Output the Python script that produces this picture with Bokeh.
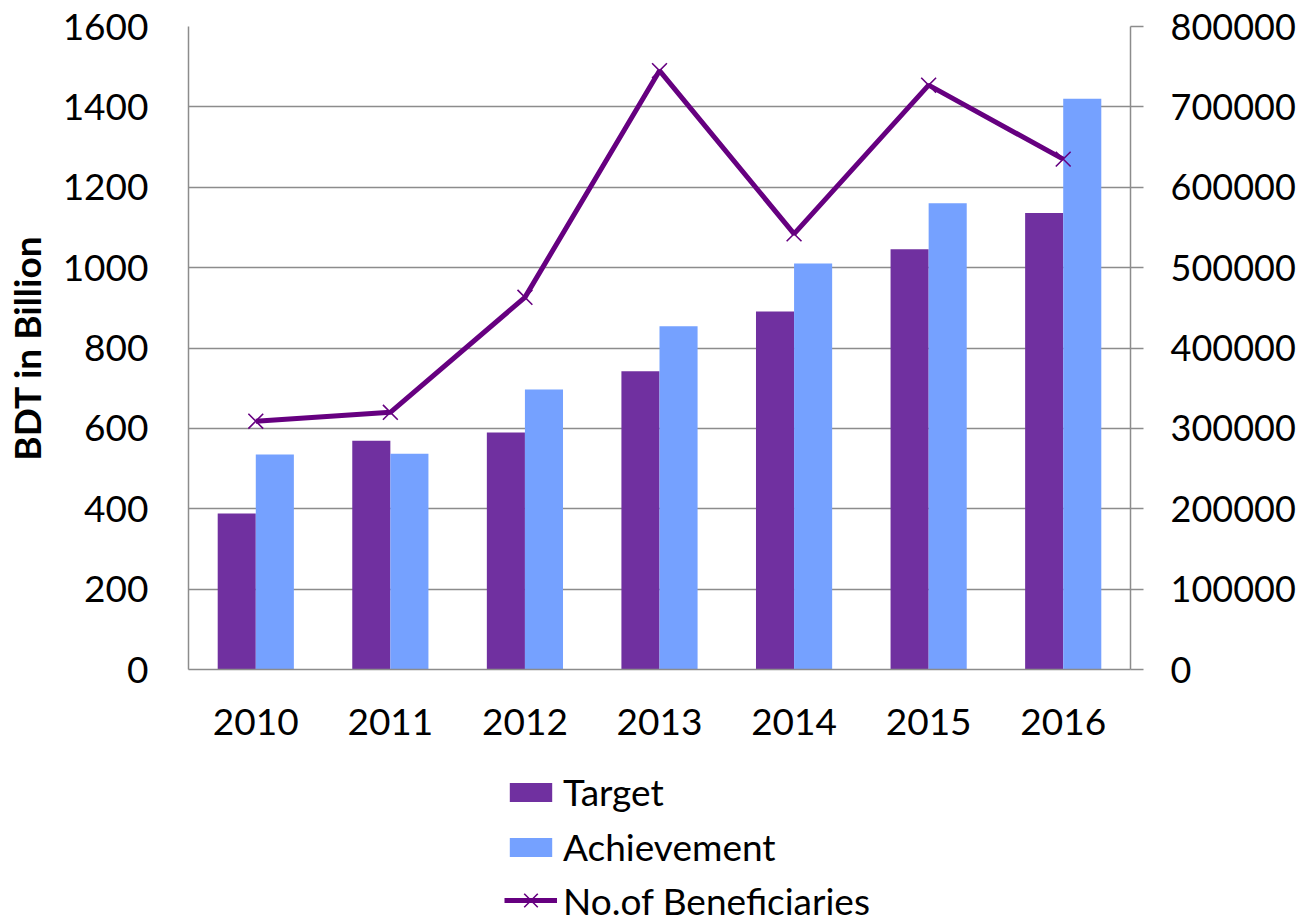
from bokeh.plotting import figure
from bokeh.layouts import column
from bokeh.models import (FactorRange, Range1d, LinearAxis, FixedTicker, BasicTickFormatter,
                          ColumnDataSource, Legend, LegendItem)
from bokeh.transform import dodge
from bokeh.embed import file_html
from bokeh.resources import INLINE

years = ["2010", "2011", "2012", "2013", "2014", "2015", "2016"]
target = [388, 569, 590, 742, 891, 1046, 1136]
achievement = [535, 537, 697, 854, 1010, 1160, 1420]
beneficiaries = [309000, 320000, 463000, 745000, 542000, 727000, 635000]
left_ticks = [0, 200, 400, 600, 800, 1000, 1200, 1400, 1600]
right_ticks = [0, 100000, 200000, 300000, 400000, 500000, 600000, 700000, 800000]
series_names = ["Target", "Achievement", "No.of Beneficiaries"]

FONT = "Lato"
GRID = "#8c8c8c"
C_T = "#7030A0"
C_A = "#75A1FF"
C_L = "#660080"

src = ColumnDataSource(dict(years=years, target=target, achievement=achievement,
                            ben=beneficiaries))

p = figure(width=1305, height=767, x_range=FactorRange(*years, range_padding=0),
           y_range=Range1d(0, 1600), output_backend="svg", toolbar_location=None,
           min_border_left=187, min_border_right=175, min_border_top=26,
           min_border_bottom=98)
p.outline_line_color = None
p.extra_y_ranges = {"ben": Range1d(0, 800000)}

bw = 0.283
p.vbar(x=dodge("years", -bw / 2, range=p.x_range), top="target", width=bw,
       source=src, fill_color=C_T, line_color=None)
p.vbar(x=dodge("years", bw / 2, range=p.x_range), top="achievement", width=bw,
       source=src, fill_color=C_A, line_color=None)
p.line(x="years", y="ben", source=src, y_range_name="ben",
       line_color=C_L, line_width=5)
p.scatter(x="years", y="ben", source=src, y_range_name="ben", marker="x",
          size=21, line_color=C_L, line_width=1.6)

# left axis
ya = p.yaxis[0]
ya.ticker = FixedTicker(ticks=left_ticks)
ya.axis_label = "BDT in Billion"
ya.axis_label_text_font = FONT
ya.axis_label_text_font_style = "bold"
ya.axis_label_text_font_size = "37px"
ya.axis_label_text_color = "black"
ya.axis_label_standoff = 11
ya.major_label_text_font = FONT
ya.major_label_text_font_size = "37px"
ya.major_label_text_color = "black"
ya.major_label_standoff = 40
ya.major_tick_out = 0
ya.major_tick_in = 0
ya.minor_tick_out = 0
ya.minor_tick_in = 0
ya.axis_line_color = GRID
ya.axis_line_width = 1.5

# right axis
ra = LinearAxis(y_range_name="ben", ticker=FixedTicker(ticks=right_ticks),
                formatter=BasicTickFormatter(use_scientific=False))
ra.major_label_text_font = FONT
ra.major_label_text_font_size = "36px"
ra.major_label_text_color = "black"
ra.major_label_standoff = 27
ra.major_tick_out = 13
ra.major_tick_in = 0
ra.minor_tick_out = 0
ra.minor_tick_in = 0
ra.major_tick_line_color = GRID
ra.major_tick_line_width = 1.5
ra.axis_line_color = GRID
ra.axis_line_width = 1.5
p.add_layout(ra, "right")

# x axis
xa = p.xaxis[0]
xa.major_label_text_font = FONT
xa.major_label_text_font_size = "37px"
xa.major_label_text_color = "black"
xa.major_label_standoff = 39
xa.major_tick_out = 0
xa.major_tick_in = 0
xa.axis_line_color = GRID
xa.axis_line_width = 1.5

p.xgrid.grid_line_color = None
p.ygrid.ticker = FixedTicker(ticks=left_ticks)
p.ygrid.grid_line_color = GRID
p.ygrid.grid_line_width = 1.5

# legend panel (separate figure below the chart; its frame aligns with the chart's frame)
lg = figure(width=1305, height=150, output_backend="svg", toolbar_location=None,
            x_axis_location=None, y_axis_location=None, min_border=0,
            x_range=Range1d(0, 1), y_range=Range1d(0, 1))
lg.outline_line_color = None
lg.grid.grid_line_color = None
# swatch renderers: off-screen samples so that legend glyphs get drawn
off = ColumnDataSource(dict(x=[-5, -6], y=[-5, -6]))
l1 = lg.vbar(x="x", top="y", width=0.1, source=off, fill_color=C_T, line_color=None)
l2 = lg.vbar(x="x", top="y", width=0.1, source=off, fill_color=C_A, line_color=None)
l3 = lg.line(x="x", y="y", source=off, line_color=C_L, line_width=5)
l4 = lg.scatter(x="x", y="y", source=off, marker="x", size=21, line_color=C_L,
                line_width=1.6)


def style(leg, gh):
    leg.label_text_font = FONT
    leg.label_text_font_size = "37px"
    leg.label_text_color = "black"
    leg.glyph_width = 53
    leg.glyph_height = gh
    leg.label_standoff = 6
    leg.spacing = 10
    leg.padding = 0
    leg.margin = 0
    leg.border_line_color = None
    leg.background_fill_alpha = 0


leg_bars = Legend(items=[LegendItem(label=series_names[0], renderers=[l1], index=0),
                         LegendItem(label=series_names[1], renderers=[l2], index=0)],
                  location=(316, 48), orientation="vertical")
style(leg_bars, 24)
leg_line = Legend(items=[LegendItem(label=series_names[2], renderers=[l3, l4], index=0)],
                  location=(316, -7), orientation="vertical")
style(leg_line, 48)
lg.add_layout(leg_bars, "center")
lg.add_layout(leg_line, "center")

layout = column(p, lg, spacing=0)
open("out.html", "w").write(file_html(layout, INLINE))
